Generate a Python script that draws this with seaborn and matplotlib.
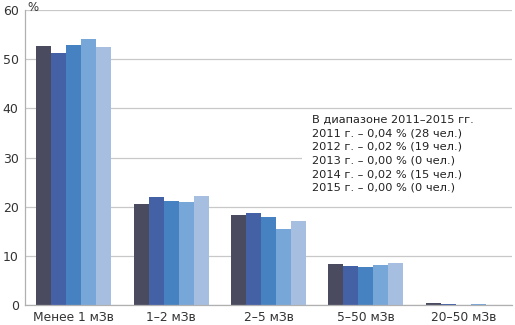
import matplotlib
matplotlib.use("Agg")
import matplotlib.pyplot as plt
from matplotlib.patches import Rectangle
import seaborn as sns
import pandas as pd

categories = ["Менее 1 мЗв", "1–2 мЗв", "2–5 мЗв", "5–50 мЗв", "20–50 мЗв"]
years = ["2011", "2012", "2013", "2014", "2015"]
values_2011 = [52.6, 20.6, 18.3, 8.3, 0.35]
values_2012 = [51.2, 21.9, 18.8, 8.0, 0.2]
values_2013 = [52.9, 21.1, 17.9, 7.7, 0.0]
values_2014 = [54.1, 20.9, 15.5, 8.1, 0.15]
values_2015 = [52.4, 22.1, 17.0, 8.6, 0.0]
yticks = [0, 10, 20, 30, 40, 50, 60]
note_lines = [
    "В диапазоне 2011–2015 гг.",
    "2011 г. – 0,04 % (28 чел.)",
    "2012 г. – 0,02 % (19 чел.)",
    "2013 г. – 0,00 % (0 чел.)",
    "2014 г. – 0,02 % (15 чел.)",
    "2015 г. – 0,00 % (0 чел.)",
]
palette = ["#4a4b5f", "#4461a6", "#4682c1", "#77a6d9", "#a6bfe0"]

series = [values_2011, values_2012, values_2013, values_2014, values_2015]
rows = []
for year, vals in zip(years, series):
    for cat, v in zip(categories, vals):
        rows.append({"cat": cat, "year": year, "value": v})
df = pd.DataFrame(rows)

sns.set_style("white")
plt.rcParams["font.family"] = ["DejaVu Sans"]

fig = plt.figure(figsize=(5.15, 3.25), dpi=100)
ax = fig.add_axes([0.0485, 0.0615, 0.9455, 0.9075])

sns.barplot(data=df, x="cat", y="value", hue="year", order=categories,
            hue_order=years, palette=palette, width=0.77, saturation=1,
            legend=False, ax=ax, errorbar=None, linewidth=0, edgecolor="none")

ax.set_xlim(-0.5, len(categories) - 0.5)
ax.set_ylim(0, 60)
ax.set_yticks(yticks)
ax.yaxis.grid(True, color="#c8c8c8", linewidth=0.9)
ax.set_axisbelow(True)
ax.set_xlabel("")
ax.set_ylabel("")

for side in ["top", "right"]:
    ax.spines[side].set_visible(False)
for side in ["left", "bottom"]:
    ax.spines[side].set_color("#b0b0b0")
    ax.spines[side].set_linewidth(0.9)

ax.tick_params(axis="y", which="major", length=3, color="#b0b0b0",
               labelsize=9, labelcolor="#333333", pad=1.5)
ax.tick_params(axis="x", which="major", length=0, labelsize=8.8,
               labelcolor="#333333", pad=4.5)
ax.set_xticks([i - 0.5 for i in range(len(categories) + 1)], minor=True)
ax.tick_params(axis="x", which="minor", length=4, color="#b0b0b0")

ax.text(0.004, 1.008, "%", transform=ax.transAxes, fontsize=8.5,
        color="#333333", ha="left", va="center")

# white panel behind the note hides the grid line under it
ax.add_patch(Rectangle((0.569, 0.38), 0.431, 0.275, transform=ax.transAxes,
                       facecolor="white", edgecolor="none", zorder=0.8))
ax.text(0.590, 0.645, "\n".join(note_lines), transform=ax.transAxes,
        fontsize=8.2, color="#222222", ha="left", va="top", linespacing=1.45,
        zorder=3)

fig.savefig("out.png", dpi=100)
